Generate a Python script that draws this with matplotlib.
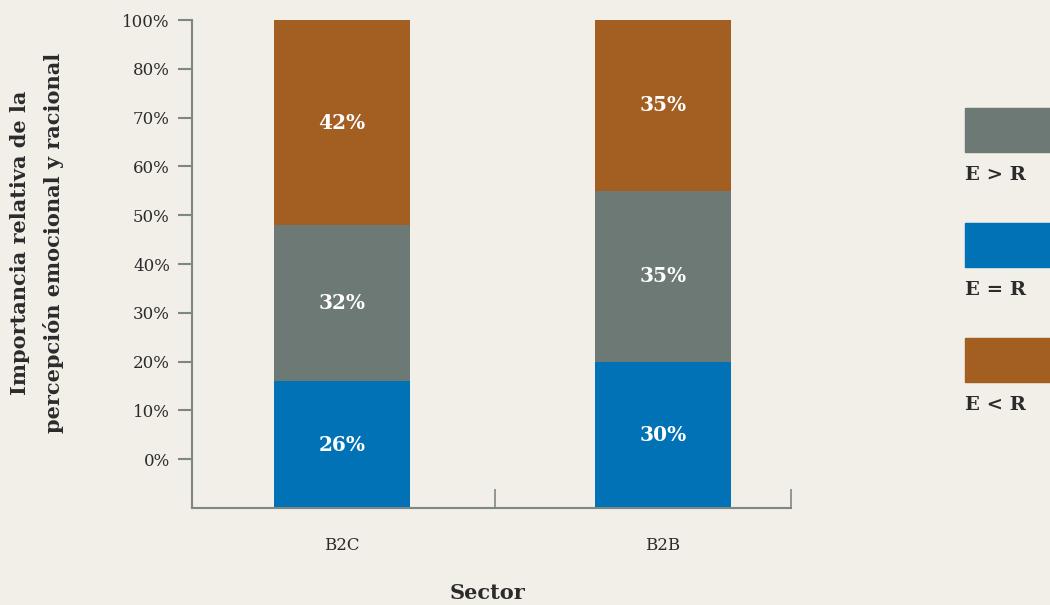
import matplotlib.pyplot as plt
from matplotlib.patches import Rectangle

# Data
SECTORS = ["B2C", "B2B"]
E_EQ_R = [26, 30]   # blue, bottom
E_GT_R = [32, 35]   # grey, middle
E_LT_R = [42, 35]   # brown, top

# The original chart's tick labels are offset by one step (no 90%)
YTICKS = [10, 20, 30, 40, 50, 60, 70, 80, 90, 100]
YTICK_LABELS = ["0%", "10%", "20%", "30%", "40%", "50%", "60%", "70%", "80%", "100%"]

LEGEND_LABELS = ["E > R", "E = R", "E < R"]

BG = "#F2EEE8"
BLUE = "#0072B5"
GREY = "#6C7975"
BROWN = "#A35E21"
AXIS = "#7D8884"
TEXT = "#2B2B2B"
FONT = "DejaVu Serif"

plt.rcParams["font.family"] = FONT

fig = plt.figure(figsize=(10.5, 6.05), dpi=100, facecolor=BG)
ax = fig.add_axes([0.1829, 0.1603, 0.5714, 0.8066], facecolor=BG)

x = [0, 1]
width = 0.424
series = [(E_EQ_R, BLUE), (E_GT_R, GREY), (E_LT_R, BROWN)]
bottoms = [0, 0]
for vals, color in series:
    bars = ax.bar(x, vals, width=width, bottom=bottoms, color=color, zorder=2)
    for b, v, bot in zip(bars, vals, bottoms):
        ax.text(b.get_x() + b.get_width() / 2, bot + v / 2, f"{v}%",
                ha="center", va="center", color="white", fontsize=14.5,
                fontweight="bold")
    bottoms = [a + v for a, v in zip(bottoms, vals)]

ax.set_xlim(-0.467, 1.402)
ax.set_ylim(0, 100)

ax.set_yticks(YTICKS)
ax.set_yticklabels(YTICK_LABELS)
ax.set_xticks(x)
ax.set_xticklabels(SECTORS)
ax.set_xticks([0.477, 1.40], minor=True)

ax.tick_params(axis="y", direction="out", length=10, width=1.5, color=AXIS,
               labelsize=12, labelcolor=TEXT, pad=6)
ax.tick_params(axis="x", which="major", length=0, labelsize=12,
               labelcolor=TEXT, pad=21)
ax.tick_params(axis="x", which="minor", direction="in", length=14,
               width=1.2, color=AXIS)

for side in ["top", "right"]:
    ax.spines[side].set_visible(False)
for side in ["left", "bottom"]:
    ax.spines[side].set_color(AXIS)
    ax.spines[side].set_linewidth(1.5)
ax.spines["bottom"].set_bounds(-0.467, 1.40)

ax.set_ylabel("Importancia relativa de la\npercepción emocional y racional",
              fontsize=15, fontweight="bold", color=TEXT,
              linespacing=1.75, va="center", ha="center")
# label centre in axes fraction: x ~ 37 px, y ~ 243 px (figure pixels)
ax.yaxis.set_label_coords((37 - 192) / 600, (508 - 243) / 488)
ax.set_xlabel("Sector", fontsize=15, fontweight="bold", color=TEXT,
              va="center")
ax.xaxis.set_label_coords((487 - 192) / 600, (508 - 593) / 488)

# Legend on the right: swatch with label underneath, cut off at the edge
legend_colors = [GREY, BLUE, BROWN]
swatch_bottoms = [0.7488, 0.5587, 0.3686]
for label, color, yb in zip(LEGEND_LABELS, legend_colors, swatch_bottoms):
    fig.patches.append(Rectangle((0.919, yb), 0.1, 0.0727, color=color,
                                 transform=fig.transFigure, figure=fig))
    fig.text(0.919, yb - 0.038, label, ha="left", va="center",
             fontsize=14, fontweight="bold", color=TEXT)

fig.savefig("out.png", dpi=100, facecolor=BG)
